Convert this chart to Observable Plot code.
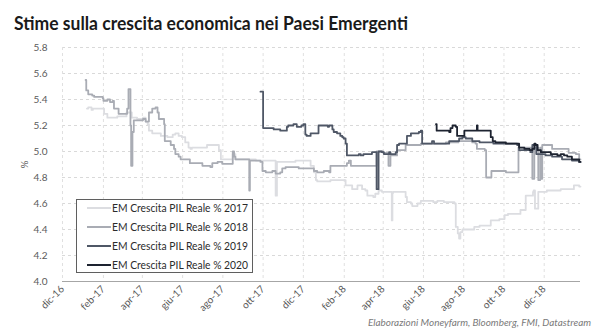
<!DOCTYPE html>
<html>
<head>
<meta charset="utf-8">
<script src="https://cdn.jsdelivr.net/npm/d3@7"></script>
<script src="https://cdn.jsdelivr.net/npm/@observablehq/plot@0.6"></script>
<style>
  body { margin: 0; background: #fff; }
  #wrap { position: relative; width: 602px; height: 333px; overflow: hidden; font-family: Lato, "Open Sans", sans-serif; }
  #title { position: absolute; left: 14px; top: 12px; font-family: Lato, sans-serif; font-weight: 700; font-size: 18px; color: #1a1a1a; white-space: nowrap; transform-origin: 0 0; }
  #chart { position: absolute; left: 0; top: 40px; }
  #chart svg { overflow: visible; }
  #legend { position: absolute; left: 76px; top: 199px; width: 175px; height: 72px; border: 1px solid #5f5f5f; background: #fff; }
  .lrow { position: absolute; left: 0; height: 16px; }
  .lline { position: absolute; left: 10px; width: 24px; height: 0; }
  .ltext { position: absolute; left: 35px; top: 0; font-family: Lato, sans-serif; font-size: 11px; color: #2b2b2b; white-space: nowrap; transform-origin: 0 50%; line-height: 16px; }
  #caption { position: absolute; left: 368px; top: 316px; font-family: Lato, sans-serif; font-style: italic; font-size: 10px; color: #7a7a7a; white-space: nowrap; transform-origin: 0 0; }
</style>
</head>
<body>
<div id="wrap">
  <div id="title">Stime sulla crescita economica nei Paesi Emergenti</div>
  <div id="chart"></div>
  <div id="legend"></div>
  <div id="caption">Elaborazioni Moneyfarm, Bloomberg, FMI, Datastream</div>
</div>
<script>
// ---- Data ----
const seriesNames = ["EM Crescita PIL Reale % 2017", "EM Crescita PIL Reale % 2018", "EM Crescita PIL Reale % 2019", "EM Crescita PIL Reale % 2020"];
const seriesColors = ["#dcdde1", "#a9acb4", "#4f5766", "#1d2330"];

const xTickDates = ["2016-12-01","2017-02-01","2017-04-01","2017-06-01","2017-08-01","2017-10-01","2017-12-01","2018-02-01","2018-04-01","2018-06-01","2018-08-01","2018-10-01","2018-12-01"];
const xTickLabels = ["dic-16","feb-17","apr-17","giu-17","ago-17","ott-17","dic-17","feb-18","apr-18","giu-18","ago-18","ott-18","dic-18"];
const yTicks = [4.0, 4.2, 4.4, 4.6, 4.8, 5.0, 5.2, 5.4, 5.6, 5.8];

const s2017 = [
["2017-01-07",5.33],["2017-01-09",5.34],["2017-01-14",5.32],["2017-01-16",5.33],["2017-02-02",5.29],
["2017-02-07",5.26],["2017-02-22",5.27],["2017-03-08",5.30],["2017-03-16",5.26],["2017-03-24",5.25],
["2017-04-02",5.26],["2017-04-06",5.23],["2017-04-09",5.21],["2017-04-11",5.16],["2017-04-16",5.14],
["2017-04-29",5.12],["2017-05-09",5.11],["2017-05-17",5.13],["2017-05-21",5.14],["2017-05-26",5.12],
["2017-05-31",5.11],["2017-06-05",5.07],["2017-06-10",5.03],["2017-06-13",5.02],["2017-06-15",5.03],
["2017-07-08",5.05],["2017-07-26",5.01],["2017-07-29",4.94],["2017-08-16",4.98],["2017-08-20",4.94],
["2017-09-20",4.93],["2017-10-20",4.66],["2017-10-22",4.92],["2017-11-19",4.93],["2017-12-12",4.89],
["2017-12-17",4.84],["2017-12-20",4.78],["2017-12-22",4.77],["2018-01-11",4.78],["2018-02-03",4.74],
["2018-02-13",4.71],["2018-02-21",4.74],["2018-02-28",4.71],["2018-03-05",4.70],["2018-03-08",4.66],
["2018-03-17",4.65],["2018-03-20",4.675],["2018-03-25",4.70],["2018-03-30",4.69],["2018-04-14",4.47],
["2018-04-15",4.68],["2018-04-16",4.69],["2018-05-05",4.65],["2018-05-07",4.61],["2018-05-13",4.60],
["2018-05-15",4.58],["2018-05-23",4.60],["2018-05-28",4.62],["2018-06-16",4.61],["2018-06-22",4.62],
["2018-07-02",4.61],["2018-07-07",4.61],["2018-07-18",4.60],["2018-07-20",4.42],["2018-07-23",4.37],
["2018-07-25",4.33],["2018-07-27",4.38],["2018-07-30",4.40],["2018-08-17",4.42],["2018-08-25",4.43],
["2018-09-11",4.47],["2018-09-24",4.48],["2018-10-02",4.51],["2018-10-07",4.52],["2018-10-26",4.55],
["2018-11-03",4.66],["2018-11-14",4.69],["2018-11-15",4.70],["2018-11-17",4.56],["2018-11-22",4.69],
["2018-12-05",4.70],["2018-12-26",4.71],["2019-01-15",4.74],["2019-01-23",4.73],["2019-01-25",4.73]
];

const s2018 = [
["2017-01-05",5.55],["2017-01-06",5.47],["2017-01-09",5.44],["2017-01-15",5.43],["2017-01-18",5.42],
["2017-01-31",5.41],["2017-02-01",5.39],["2017-02-07",5.40],["2017-02-11",5.38],["2017-02-15",5.39],
["2017-02-17",5.33],["2017-02-24",5.29],["2017-03-09",5.33],["2017-03-11",5.48],["2017-03-14",5.20],
["2017-03-15",4.89],["2017-03-17",5.15],["2017-03-19",5.24],["2017-04-02",5.25],["2017-04-06",5.23],
["2017-04-11",5.30],["2017-04-16",5.33],["2017-04-21",5.34],["2017-04-24",5.30],["2017-04-26",5.25],
["2017-05-04",5.21],["2017-05-05",5.08],["2017-05-14",5.05],["2017-05-19",5.02],["2017-05-21",4.98],
["2017-05-26",4.96],["2017-05-29",4.94],["2017-06-12",4.91],["2017-07-01",4.89],["2017-07-13",4.88],
["2017-07-16",4.91],["2017-07-24",4.92],["2017-07-31",4.905],["2017-08-16",5.00],["2017-08-18",4.96],
["2017-08-20",4.94],["2017-09-10",4.70],["2017-09-11",4.93],["2017-09-27",4.92],["2017-09-30",4.85],
["2017-10-05",4.84],["2017-10-15",4.85],["2017-10-20",4.83],["2017-10-27",4.84],["2017-10-30",4.87],
["2017-11-04",4.88],["2017-11-24",4.87],["2017-12-17",4.85],["2017-12-22",4.84],["2018-01-01",4.85],
["2018-01-09",4.84],["2018-01-11",4.89],["2018-02-05",4.91],["2018-02-08",4.93],["2018-02-11",4.89],
["2018-03-22",5.00],["2018-04-01",4.99],["2018-04-09",4.89],["2018-04-12",4.97],["2018-04-22",5.01],
["2018-05-05",5.05],["2018-05-28",5.06],["2018-07-05",5.07],["2018-07-24",5.08],["2018-08-14",5.07],
["2018-08-19",5.06],["2018-08-21",5.02],["2018-09-02",5.01],["2018-09-04",4.80],["2018-09-12",4.85],
["2018-10-04",4.84],["2018-10-23",5.03],["2018-11-13",4.79],["2018-11-16",5.03],["2018-11-22",4.78],
["2018-11-25",5.03],["2018-11-26",4.79],["2018-11-28",5.05],["2018-12-13",5.02],["2019-01-07",4.99],
["2019-01-18",4.98],["2019-01-23",4.94],["2019-01-25",4.94]
];

const s2019 = [
["2017-09-27",5.46],["2017-10-01",5.18],["2017-10-17",5.17],["2017-10-27",5.16],["2017-11-06",5.19],
["2017-11-08",5.20],["2017-11-16",5.21],["2017-11-21",5.19],["2017-11-28",5.20],["2017-12-01",5.21],
["2017-12-04",5.13],["2017-12-06",5.12],["2017-12-12",5.14],["2017-12-24",5.20],["2018-01-07",5.19],
["2018-01-09",5.20],["2018-01-14",5.17],["2018-01-16",5.15],["2018-01-21",5.14],["2018-01-26",5.12],
["2018-01-29",5.11],["2018-01-31",5.10],["2018-02-03",5.06],["2018-02-05",4.97],["2018-02-23",4.98],
["2018-02-26",4.97],["2018-03-02",4.98],["2018-03-15",4.995],["2018-03-22",4.71],["2018-03-25",5.00],
["2018-03-30",4.995],["2018-04-02",4.98],["2018-04-10",4.995],["2018-04-12",4.98],["2018-04-20",4.995],
["2018-04-22",5.05],["2018-04-25",5.06],["2018-05-07",5.12],["2018-05-13",5.14],["2018-05-25",5.15],
["2018-05-28",5.16],["2018-05-30",5.06],["2018-06-14",5.08],["2018-06-17",5.06],["2018-07-10",5.08],
["2018-07-25",5.10],["2018-07-30",5.11],["2018-08-04",5.10],["2018-08-14",5.08],["2018-08-25",5.07],
["2018-09-15",5.06],["2018-10-21",5.05],["2018-10-24",5.01],["2018-11-10",4.995],["2018-11-13",5.05],
["2018-11-19",4.98],["2018-12-03",4.97],["2018-12-13",4.96],["2018-12-28",4.94],["2019-01-12",4.93],
["2019-01-23",4.92],["2019-01-25",4.92]
];

const s2020 = [
["2018-06-20",5.21],["2018-06-21",5.16],["2018-07-10",5.15],["2018-07-12",5.18],["2018-07-15",5.20],
["2018-07-20",5.19],["2018-07-22",5.12],["2018-08-02",5.16],["2018-08-21",5.20],["2018-08-22",5.16],
["2018-09-11",5.11],["2018-09-14",5.08],["2018-09-18",5.07],["2018-10-04",5.06],["2018-10-24",5.03],
["2018-11-01",5.02],["2018-11-09",5.01],["2018-11-13",5.02],["2018-11-16",5.06],["2018-11-18",5.05],
["2018-11-21",5.01],["2018-11-26",4.995],["2018-12-11",4.98],["2018-12-21",4.97],["2018-12-26",4.98],
["2018-12-31",4.97],["2019-01-05",4.96],["2019-01-12",4.94],["2019-01-23",4.92],["2019-01-25",4.92]
];

const xDomain = ["2016-12-01", "2019-01-25"];

// ---- Chart ----
const allSeries = [s2017, s2018, s2019, s2020];
const tickDates = xTickDates.map(d => new Date(d));
const labelByTime = new Map(tickDates.map((d, i) => [+d, xTickLabels[i]]));

const lineMarks = allSeries.map((s, i) => Plot.line(s, {
  x: d => new Date(d[0]),
  y: d => d[1],
  curve: "step-after",
  stroke: seriesColors[i],
  strokeWidth: 1.8
}));

const chart = Plot.plot({
  width: 602,
  height: 277,
  marginTop: 7,
  marginBottom: 36,
  marginLeft: 62,
  marginRight: 22,
  style: { fontFamily: "Lato, sans-serif", background: "#fff" },
  x: { type: "utc", domain: xDomain.map(d => new Date(d)) },
  y: { domain: [4, 5.8] },
  marks: [
    Plot.gridY(yTicks.filter(v => v > 4), { stroke: "#d9d9d9", strokeOpacity: 1, strokeDasharray: "3,3" }),
    Plot.gridX(tickDates, { stroke: "#e0e0e0", strokeOpacity: 1, strokeDasharray: "3,3" }),
    Plot.ruleY([4], { stroke: "#a6a6a6", strokeWidth: 1.2 }),
    Plot.axisY(yTicks, {
      tickSize: 0, tickPadding: 15, fontSize: 10, fill: "#5a5a5a",
      tickFormat: d => d.toFixed(1),
      label: "%", labelAnchor: "center", labelArrow: "none", labelOffset: 42
    }),
    Plot.axisX(tickDates, {
      tickSize: 0, tickPadding: 6, tickRotate: -45, fontSize: 10, fill: "#5a5a5a",
      tickFormat: d => labelByTime.get(+d), label: null
    }),
    ...lineMarks
  ]
});
document.getElementById("chart").appendChild(chart);

// ---- Legend ----
const legend = document.getElementById("legend");
const rowCenters = [7.5, 26.5, 45.5, 64.5];
seriesNames.forEach((name, i) => {
  const row = document.createElement("div");
  row.className = "lrow";
  row.style.top = (rowCenters[i] - 8) + "px";
  row.style.width = "175px";
  const ln = document.createElement("div");
  ln.className = "lline";
  ln.style.top = "7px";
  ln.style.borderTop = "2px solid " + seriesColors[i];
  const tx = document.createElement("div");
  tx.className = "ltext";
  tx.textContent = name;
  row.appendChild(ln);
  row.appendChild(tx);
  legend.appendChild(row);
});

// ---- fit text widths to reference ----
function fit(el, target) {
  const w = el.getBoundingClientRect().width;
  if (w > 0) el.style.transform = "scaleX(" + (target / w) + ")";
}
fit(document.getElementById("title"), 394);
document.querySelectorAll(".ltext").forEach(el => fit(el, 136));
fit(document.getElementById("caption"), 223);
</script>
</body>
</html>
